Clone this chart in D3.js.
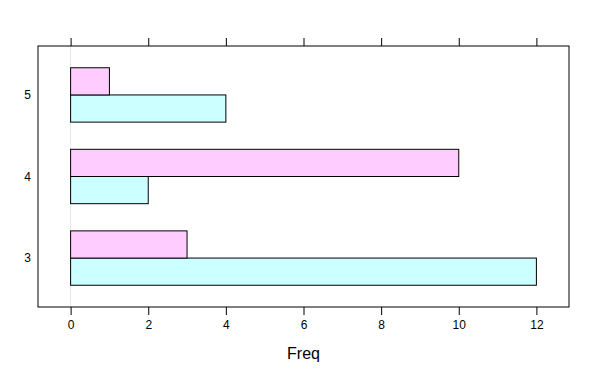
<!DOCTYPE html>
<html>
<head>
<meta charset="utf-8">
<script src="https://cdn.jsdelivr.net/npm/d3@7"></script>
<style>
body{margin:0;background:#fff;}
text{font-family:"Liberation Sans",Arial,sans-serif;}
</style>
</head>
<body>
<div id="chart"></div>
<script>
// data
var categories=["3","4","5"];
var seriesNames=["A","B"];
var cyanValues=[12,2,4];
var pinkValues=[3,10,1];
var xTicks=[0,2,4,6,8,10,12];
var fills=["#ccffff","#ffccff"];

var width=600,height=375;
var panel={left:38,right:569,top:46,bottom:307};

var svg=d3.select("#chart").append("svg")
    .attr("width",width)
    .attr("height",height);

var x=d3.scaleLinear()
    .domain([-0.84,12.84])
    .range([panel.left,panel.right]);
//類別位置 0.4 .. 3.6
var y=d3.scaleLinear()
    .domain([0.4,3.6])
    .range([panel.bottom,panel.top]);

var barH=(y(0)-y(1))/3;

//origin reference line
svg.append("line")
    .attr("x1",x(0)).attr("x2",x(0))
    .attr("y1",panel.top).attr("y2",panel.bottom)
    .attr("stroke","#e6e6e6")
    .attr("stroke-width",1);

var rows=[];
categories.forEach(function(c,i){
    rows.push({cat:c,idx:i+1,s:0,v:cyanValues[i]});
    rows.push({cat:c,idx:i+1,s:1,v:pinkValues[i]});
});

svg.append("g").selectAll("rect")
    .data(rows)
    .enter().append("rect")
    .attr("x",function(d){return x(0);})
    .attr("width",function(d){return x(d.v)-x(0);})
    .attr("y",function(d){
        var c=y(d.idx);
        return d.s==0 ? c : c-barH;
    })
    .attr("height",barH)
    .attr("fill",function(d){return fills[d.s];})
    .attr("stroke","#000")
    .attr("stroke-width",1);

//panel border
svg.append("rect")
    .attr("x",panel.left).attr("y",panel.top)
    .attr("width",panel.right-panel.left)
    .attr("height",panel.bottom-panel.top)
    .attr("fill","none")
    .attr("stroke","#000")
    .attr("stroke-width",1);

//bottom axis
var bottomAxis=svg.append("g")
    .attr("transform","translate(0,"+panel.bottom+")")
    .call(d3.axisBottom(x).tickValues(xTicks).tickSize(8).tickPadding(5).tickFormat(d3.format("d")));
bottomAxis.select(".domain").remove();
bottomAxis.selectAll("text").attr("font-size","12px").attr("fill","#000").attr("font-family","Liberation Sans, Arial, sans-serif");
bottomAxis.selectAll("line").attr("stroke","#000");

//top ticks only
var topAxis=svg.append("g")
    .attr("transform","translate(0,"+panel.top+")")
    .call(d3.axisTop(x).tickValues(xTicks).tickSize(8).tickFormat(""));
topAxis.select(".domain").remove();
topAxis.selectAll("line").attr("stroke","#000");

//y labels, no ticks
svg.append("g").selectAll("text")
    .data(categories)
    .enter().append("text")
    .attr("x",31)
    .attr("y",function(d,i){return y(i+1);})
    .attr("dy","0.35em")
    .attr("text-anchor","end")
    .attr("font-size","12px")
    .text(function(d){return d;});

svg.append("text")
    .attr("x",(panel.left+panel.right)/2)
    .attr("y",359)
    .attr("text-anchor","middle")
    .attr("font-size","16px")
    .text("Freq");
</script>
</body>
</html>
